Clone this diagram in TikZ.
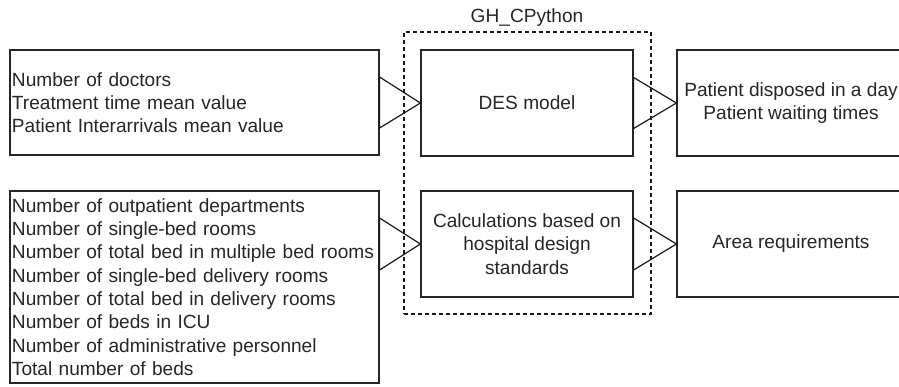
\documentclass[tikz,border=0pt]{standalone}
\usepackage{fontspec}
\setmainfont{Liberation Sans}
\begin{document}
\begin{tikzpicture}[x=1pt,y=-1pt,
  every node/.style={font=\fontsize{19.1}{23.3}\selectfont, text=black!85},
  inbox/.style={draw=black!85, line width=1.2pt, inner xsep=2pt, inner ysep=0pt, align=left},
  cbox/.style={draw=black!85, line width=1.2pt, inner sep=0pt, align=center},
  tri/.style={draw=black!90, line width=1.2pt, line join=miter},
  dashbox/.style={draw=black!90, line width=1.2pt, dash pattern=on 4pt off 3pt, inner sep=0pt}]
\useasboundingbox (0,0) rectangle (899,386);
\begin{scope}
\clip (0,0) rectangle (899,386);
% dashed group
\node[dashbox, minimum width=247pt, minimum height=282pt] (gh) at (527.5,173) {};
\node (ghlabel) at (527,18) {GH\_CPython};
% inputs
\node[inbox, text width=365pt, minimum height=105pt] (in1) at (194.5,102.5)
  {Number of doctors\\Treatment time mean value\\Patient Interarrivals mean value};
\node[inbox, text width=365pt, minimum height=192pt] (in2) at (194.5,287)
  {Number of outpatient departments\\Number of single-bed rooms\\Number of total bed in multiple bed rooms\\Number of single-bed delivery rooms\\Number of total bed in delivery rooms\\Number of beds in ICU\\Number of administrative personnel\\Total number of beds};
% models
\node[cbox, minimum width=212pt, minimum height=106pt] (des) at (527,103) {DES model};
\node[cbox, minimum width=212pt, minimum height=106pt] (calc) at (527,244)
  {Calculations based on\\hospital design\\standards};
% outputs
\node[cbox, minimum width=228pt, minimum height=106pt] (out1) at (791,103)
  {Patient disposed in a day\\Patient waiting times};
\node[cbox, minimum width=228pt, minimum height=106pt] (out2) at (791,244)
  {Area requirements};
% triangle connectors
\draw[tri] ([yshift=25.5pt]in1.east) -- (des.west) -- ([yshift=-25.5pt]in1.east) -- cycle;
\draw[tri] ([yshift=26pt]calc.west -| in2.east) -- (calc.west) -- ([yshift=-26pt]calc.west -| in2.east) -- cycle;
\draw[tri] ([yshift=25.5pt]des.east) -- (out1.west) -- ([yshift=-25.5pt]des.east) -- cycle;
\draw[tri] ([yshift=26pt]calc.east) -- (out2.west) -- ([yshift=-26pt]calc.east) -- cycle;
\end{scope}
\end{tikzpicture}
\end{document}
